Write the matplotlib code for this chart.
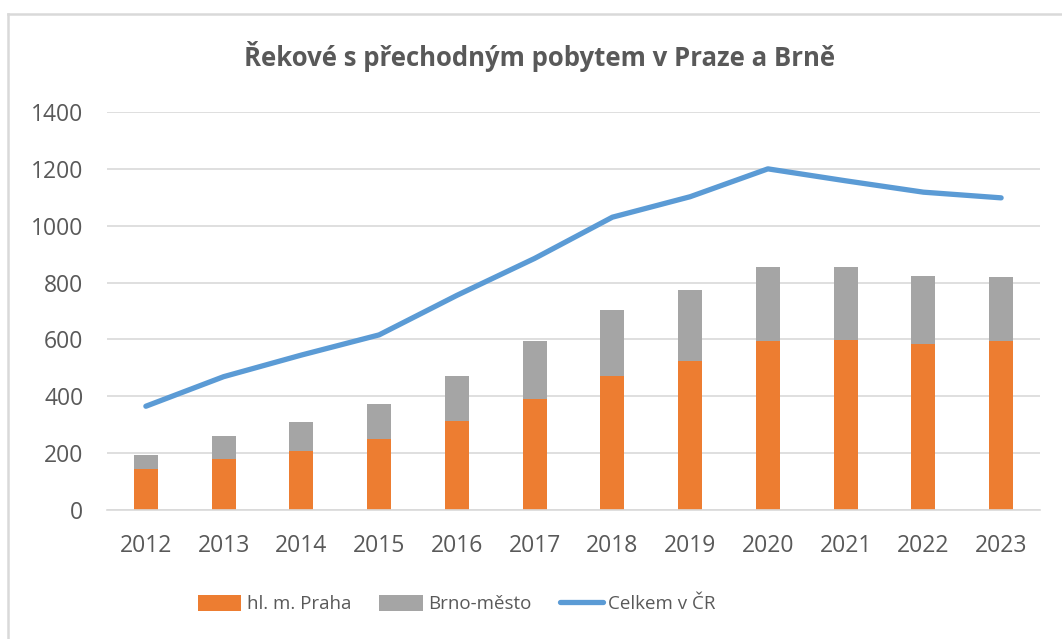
import matplotlib

matplotlib.use("Agg")

import matplotlib.pyplot as plt
from matplotlib.lines import Line2D
import numpy as np

years = ["2012", "2013", "2014", "2015", "2016", "2017",
         "2018", "2019", "2020", "2021", "2022", "2023"]
praha = [145, 179, 208, 249, 314, 389, 473, 524, 594, 599, 585, 594]
brno = [49, 80, 100, 124, 159, 205, 231, 250, 260, 255, 239, 225]
celkem = [365, 469, 545, 616, 755, 885, 1030, 1102, 1200, 1158, 1118, 1098]

TEXT = "#595959"
W, H = 1062, 639
plt.rcParams["font.family"] = ["Open Sans", "DejaVu Sans"]

fig = plt.figure(figsize=(W / 100, H / 100), dpi=100, facecolor="white")
# chart frame: only the top and left edges are visible in the screenshot
frame = dict(transform=fig.transFigure, color="#d9d9d9", linewidth=1.8)
fig.add_artist(Line2D([8 / W, 1], [1 - 14 / H, 1 - 14 / H], **frame))
fig.add_artist(Line2D([8 / W, 8 / W], [0, 1 - 14 / H], **frame))

ax = fig.add_axes([107 / W, 1 - 510 / H, 933 / W, 398 / H])
x = np.arange(len(years))
w = 0.31

ax.bar(x, praha, width=w, color="#ED7D31", label="hl. m. Praha", zorder=2)
ax.bar(x, brno, width=w, bottom=praha, color="#A5A5A5", label="Brno-město", zorder=2)
ax.plot(x, celkem, color="#5B9BD5", linewidth=3.8, solid_capstyle="round",
        solid_joinstyle="round", label="Celkem v ČR", zorder=3)

ax.set_xlim(-0.5, len(years) - 0.5)
ax.set_ylim(0, 1400)
ax.set_yticks(range(0, 1401, 200))
ax.set_xticks(x)
ax.set_xticklabels(years)
ax.grid(axis="y", color="#d9d9d9", linewidth=1.2, zorder=0)
ax.set_axisbelow(True)
for side in ["top", "right", "left"]:
    ax.spines[side].set_visible(False)
ax.spines["bottom"].set_color("#d9d9d9")
ax.spines["bottom"].set_linewidth(1.2)
ax.tick_params(length=0, colors=TEXT, labelsize=16.5)
ax.tick_params(axis="x", pad=17)
ax.tick_params(axis="y", pad=17)

fig.text(0.508, 1 - 57 / H, "Řekové s přechodným pobytem v Praze a Brně",
         ha="center", va="center", fontsize=18.5, fontweight="bold", color=TEXT)

handles, labels = ax.get_legend_handles_labels()
order = [1, 2, 0]
fig.legend([handles[i] for i in order], [labels[i] for i in order],
           loc="center", bbox_to_anchor=(457 / W, 1 - 604 / H), ncol=3,
           frameon=False, fontsize=13.5, labelcolor=TEXT, handlelength=2.3,
           handleheight=0.95, handletextpad=0.3, columnspacing=1.5)

fig.savefig("out.png", dpi=100, facecolor="white")
